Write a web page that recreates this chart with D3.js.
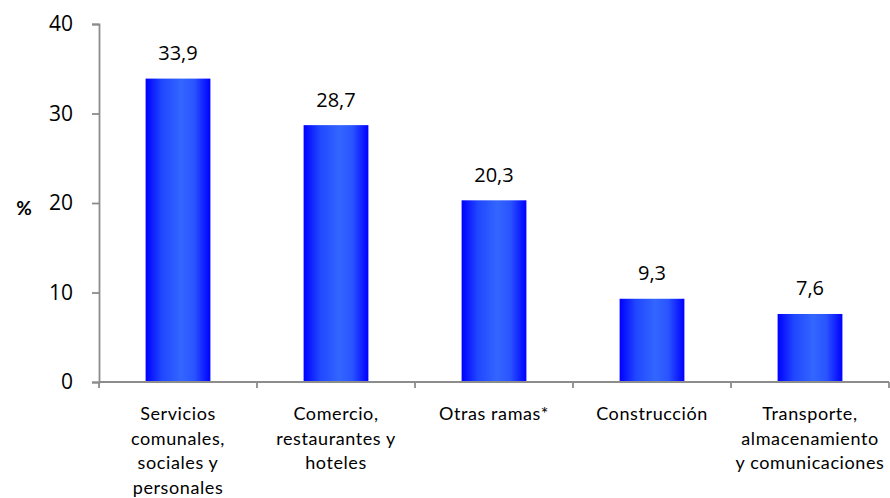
<!DOCTYPE html>
<meta charset="utf-8">
<style>
body { margin: 0; background: #fff; }
svg text { font-family: "Lato", "Open Sans", sans-serif; fill: #000; }
.axis path, .axis line { stroke: #8c8c8c; stroke-width: 1.8px; }
</style>
<body>
<script src="https://d3js.org/d3.v7.min.js"></script>
<script>

var categories = [
  ["Servicios", "comunales,", "sociales y", "personales"],
  ["Comercio,", "restaurantes y", "hoteles"],
  ["Otras ramas*"],
  ["Construcción"],
  ["Transporte,", "almacenamiento", "y comunicaciones"]
];
var values = [33.9, 28.7, 20.3, 9.3, 7.6];
var valueLabels = ["33,9", "28,7", "20,3", "9,3", "7,6"];
var yTicks = [0, 10, 20, 30, 40];

var width = 890, height = 498;
var margin = {left: 99, right: 1, top: 24, bottom: 116};

var svg = d3.select("body").append("svg")
    .attr("width", width)
    .attr("height", height);

var grad = svg.append("defs").append("linearGradient")
    .attr("id", "barfill")
    .attr("x1", "0%").attr("x2", "100%")
    .attr("y1", "0%").attr("y2", "0%");
grad.append("stop").attr("offset", "0%").attr("stop-color", "#0000ff");
grad.append("stop").attr("offset", "25%").attr("stop-color", "#2047ff");
grad.append("stop").attr("offset", "55%").attr("stop-color", "#3366ff");
grad.append("stop").attr("offset", "75%").attr("stop-color", "#2a55ff");
grad.append("stop").attr("offset", "100%").attr("stop-color", "#0000ff");

var x = d3.scaleBand()
    .domain(d3.range(categories.length))
    .range([margin.left, width - margin.right])
    .paddingInner(0.59)
    .paddingOuter(0.295);

var xTicks = d3.scaleLinear()
    .domain([0, categories.length])
    .range([margin.left, width - margin.right]);

var y = d3.scaleLinear()
    .domain([0, 40])
    .range([height - margin.bottom, margin.top]);

// bars
svg.selectAll("rect.bar")
    .data(values)
  .enter()
    .append("rect")
    .attr("class", "bar")
    .attr("x", (d, i) => x(i))
    .attr("width", x.bandwidth())
    .attr("y", d => y(d))
    .attr("height", d => y(0) - y(d))
    .attr("fill", "url(#barfill)");

// y axis
var yAxis = svg.append("g")
    .attr("class", "axis")
    .attr("transform", `translate(${margin.left},0)`)
    .call(d3.axisLeft(y).tickValues(yTicks).tickSize(7).tickSizeOuter(7).tickPadding(19));
yAxis.selectAll("text")
    .style("font-size", "21px")
    .style("font-family", "'Open Sans', sans-serif");

// x axis line and boundary ticks
var xAxis = svg.append("g").attr("class", "axis");
xAxis.append("line")
    .attr("x1", margin.left).attr("x2", width - margin.right)
    .attr("y1", y(0)).attr("y2", y(0));
xAxis.selectAll("line.tick")
    .data(d3.range(categories.length + 1))
  .enter()
    .append("line")
    .attr("class", "tick")
    .attr("x1", d => xTicks(d)).attr("x2", d => xTicks(d))
    .attr("y1", y(0)).attr("y2", y(0) + 6);

// category labels
svg.selectAll("text.cat")
    .data(categories)
  .enter()
    .append("text")
    .attr("class", "cat")
    .attr("text-anchor", "middle")
    .style("font-size", "18px")
    .style("letter-spacing", "0.6px")
    .attr("transform", (d, i) => `translate(${x(i) + x.bandwidth() / 2},${y(0) + 38})`)
  .selectAll("tspan")
    .data(d => d)
  .enter()
    .append("tspan")
    .attr("x", 0)
    .attr("y", (d, i) => i * 24.5)
    .text(d => d);

// value labels
svg.selectAll("text.val")
    .data(values)
  .enter()
    .append("text")
    .attr("class", "val")
    .attr("text-anchor", "middle")
    .style("font-size", "20px")
    .style("font-family", "'Open Sans', sans-serif")
    .attr("x", (d, i) => x(i) + x.bandwidth() / 2)
    .attr("y", d => y(d) - 18.5)
    .text((d, i) => valueLabels[i]);

// y label
svg.append("text")
    .attr("x", 24)
    .attr("y", 215)
    .attr("text-anchor", "middle")
    .style("font-size", "19px")
    .style("font-weight", "bold")
    .text("%");

</script>
</body>
